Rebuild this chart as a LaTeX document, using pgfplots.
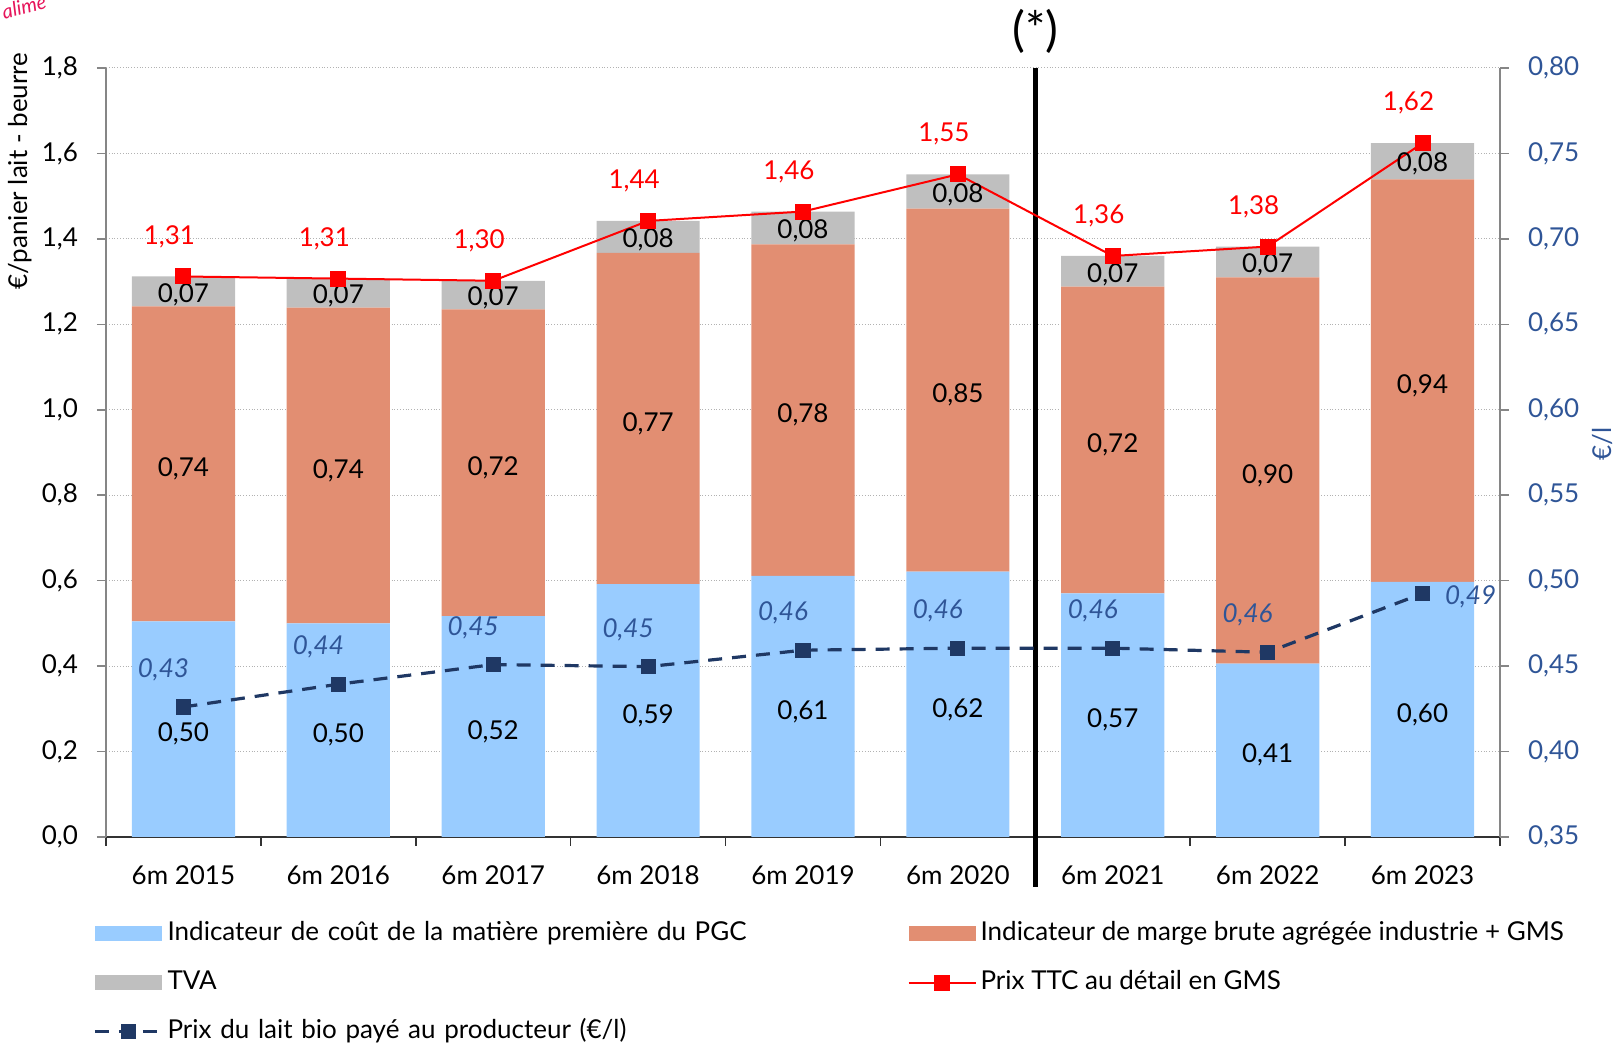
\documentclass[border=0pt]{standalone}
\usepackage{fontspec}
\setmainfont{Lato}
\usepackage{pgfplots}
\usepackage{pgfplotstable}
\pgfplotsset{compat=1.18}

\definecolor{costblue}{RGB}{153,204,255}
\definecolor{tvagray}{RGB}{191,191,191}
\definecolor{margec}{RGB}{226,142,114}
\definecolor{navy}{RGB}{31,56,100}
\definecolor{labblue}{RGB}{47,85,151}
\definecolor{axgray}{RGB}{134,134,134}

\pgfplotstableread{
x cost marge tva total lait lc lm lt lp ll
0 0.505 0.737 0.070 1.312 0.4261 0,50 0,74 0,07 1,31 0,43
1 0.500 0.739 0.068 1.307 0.4394 0,50 0,74 0,07 1,31 0,44
2 0.517 0.718 0.067 1.302 0.4509 0,52 0,72 0,07 1,30 0,45
3 0.592 0.775 0.075 1.442 0.4497 0,59 0,77 0,08 1,44 0,45
4 0.611 0.776 0.077 1.464 0.4593 0,61 0,78 0,08 1,46 0,46
5 0.621 0.850 0.080 1.551 0.4605 0,62 0,85 0,08 1,55 0,46
6 0.570 0.718 0.072 1.360 0.4605 0,57 0,72 0,07 1,36 0,46
7 0.406 0.904 0.072 1.382 0.4581 0,41 0,90 0,07 1,38 0,46
8 0.597 0.942 0.085 1.624 0.4925 0,60 0,94 0,08 1,62 0,49
}\data

\pgfplotsset{
  base/.style={scale only axis, width=697pt, height=384.5pt,
    xmin=-0.5, xmax=8.5, clip=false},
}

\begin{document}
\begin{tikzpicture}[font=\fontsize{13}{15}\selectfont]
% ---- bars, left axis
\begin{axis}[base, name=ax,
  ymin=0, ymax=1.8,
  ybar stacked, bar width=51.6pt,
  axis y line*=left, axis x line*=bottom,
  y axis line style={axgray, line width=0.8pt},
  x axis line style={black!80, line width=0.8pt},
  xtick={0,...,8},
  xticklabels={6m 2015,6m 2016,6m 2017,6m 2018,6m 2019,6m 2020,6m 2021,6m 2022,6m 2023},
  major x tick style={draw=none},
  minor xtick={-0.5,0.5,1.5,2.5,3.5,4.5,5.5,6.5,7.5,8.5},
  minor x tick style={black!80, line width=0.8pt},
  minor tick length=4.5pt,
  ytick={0,0.2,0.4,0.6,0.8,1.0,1.2,1.4,1.6,1.8},
  y tick style={axgray, line width=0.8pt},
  major tick length=4.5pt,
  tick align=outside,
  ymajorgrids, grid style={densely dotted, black!30, line width=0.5pt},
  yticklabel style={xshift=-6pt, /pgf/number format/.cd, fixed, fixed zerofill, precision=1, use comma, assume math mode=true},
  xticklabel style={yshift=-6.5pt, /pgf/number format/assume math mode=true},
  legend columns=2,
  legend cell align=left,
  legend style={draw=none, fill=none, at={(0,0)}, anchor=north west,
    xshift=-6.5pt, yshift=-41pt, inner sep=0pt,
    nodes={inner xsep=2pt, inner ysep=1pt, text height=9.5pt, text depth=2.8pt},
    row sep=10.2pt,
    /tikz/column 2/.style={text width=368pt}},
]
\addplot[fill=costblue, draw=none,
  legend image code/.code={\fill[costblue] (0pt,-3.6pt) rectangle (33.5pt,3.6pt);}]
  table[x=x, y=cost] {\data};
\addlegendentry{Indicateur de coût de la matière première du PGC}
\addplot[fill=margec, draw=none,
  legend image code/.code={\fill[margec] (0pt,-3.6pt) rectangle (33.5pt,3.6pt);}]
  table[x=x, y=marge] {\data};
\addlegendentry{Indicateur de marge brute agrégée industrie + GMS}
\addplot[fill=tvagray, draw=none,
  legend image code/.code={\fill[tvagray] (0pt,-3.6pt) rectangle (33.5pt,3.6pt);}]
  table[x=x, y=tva] {\data};
\addlegendentry{TVA}
\addlegendimage{red, line width=1pt,
  legend image code/.code={\draw[red, line width=1pt] (0pt,0pt) -- (33.5pt,0pt); \fill[red] (13.25pt,-3.5pt) rectangle (20.25pt,3.5pt);}}
\addlegendentry{Prix TTC au détail en GMS}
\addlegendimage{navy, line width=1.6pt,
  legend image code/.code={\draw[navy, line width=1.6pt, dash pattern=on 7pt off 5pt] (0pt,0pt) -- (33.5pt,0pt); \fill[navy] (13.75pt,-3pt) rectangle (19.75pt,3pt);}}
\addlegendentry{Prix du lait bio payé au producteur (\texteuro/l)}
\end{axis}

% ---- labels, red line, left scale
\begin{axis}[base, ymin=0, ymax=1.8, hide axis]
\draw[black, line width=2.5pt] (axis cs:5.5,1.8) -- ([yshift=-25pt]axis cs:5.5,0);
\node[font=\fontsize{24}{26}\selectfont] at ([yshift=18.5pt]axis cs:5.5,1.8) {(*)};
\addplot[draw=none, mark=none, nodes near coords, point meta=explicit symbolic,
  every node near coord/.append style={anchor=center, black, yshift=-2.5pt}]
  table[x=x, y expr=\thisrow{cost}/2, meta=lc] {\data};
\addplot[draw=none, mark=none, nodes near coords, point meta=explicit symbolic,
  every node near coord/.append style={anchor=center, black, yshift=-2.5pt}]
  table[x=x, y expr=\thisrow{cost}+\thisrow{marge}/2, meta=lm] {\data};
\addplot[draw=none, mark=none, nodes near coords, point meta=explicit symbolic,
  every node near coord/.append style={anchor=center, black, yshift=-1.5pt}]
  table[x=x, y expr=\thisrow{cost}+\thisrow{marge}+\thisrow{tva}/2, meta=lt] {\data};
\addplot[red, line width=1pt, mark=square*, mark size=3.5pt,
  nodes near coords, point meta=explicit symbolic,
  every node near coord/.append style={anchor=center, red, xshift=-7pt, yshift=20pt}]
  table[x=x, y=total, meta=lp] {\data};
\end{axis}

% ---- right axis, producer price
\begin{axis}[base, ymin=0.35, ymax=0.80,
  axis y line*=right, axis x line=none,
  y axis line style={axgray, line width=0.8pt},
  ytick={0.35,0.40,0.45,0.50,0.55,0.60,0.65,0.70,0.75,0.80},
  y tick style={axgray, line width=0.8pt},
  major tick length=4.5pt, tick align=outside,
  yticklabel style={labblue, xshift=6pt, /pgf/number format/.cd, fixed, fixed zerofill, precision=2, use comma, assume math mode=true},
]
\addplot[navy, line width=1.6pt, dash pattern=on 7pt off 5pt, mark=square*, mark size=3pt, mark options={solid}]
  table[x=x, y=lait] {\data};
\addplot[draw=none, mark=none, nodes near coords, point meta=explicit symbolic,
  every node near coord/.append style={anchor=center, labblue, font=\fontsize{13}{15}\selectfont\itshape, xshift=-10pt, yshift=18.5pt}]
  table[x=x, y=lait, meta=ll] {
x lait ll
0 0.4261 0,43
1 0.4394 0,44
2 0.4509 0,45
3 0.4497 0,45
4 0.4593 0,46
5 0.4605 0,46
6 0.4605 0,46
7 0.4581 0,46
};
\addplot[draw=none, mark=none, nodes near coords, point meta=explicit symbolic,
  every node near coord/.append style={anchor=center, labblue, font=\fontsize{13}{15}\selectfont\itshape, xshift=24pt, yshift=-1.5pt}]
  table[x=x, y=lait, meta=ll] {
x lait ll
8 0.4925 0,49
};
\end{axis}

\node[rotate=90] at (-43pt,333pt) {\texteuro/panier lait - beurre};
\node[rotate=90, text=labblue] at (748pt,196.5pt) {\texteuro/l};
\node[rotate=14, text={rgb,255:red,230;green,20;blue,90}, font=\fontsize{10}{12}\selectfont\itshape] at (-41pt,415pt) {alime};

\pgfresetboundingbox
\path (-53pt,-103.5pt) rectangle ++(809.5pt,522pt);
\end{tikzpicture}
\end{document}
